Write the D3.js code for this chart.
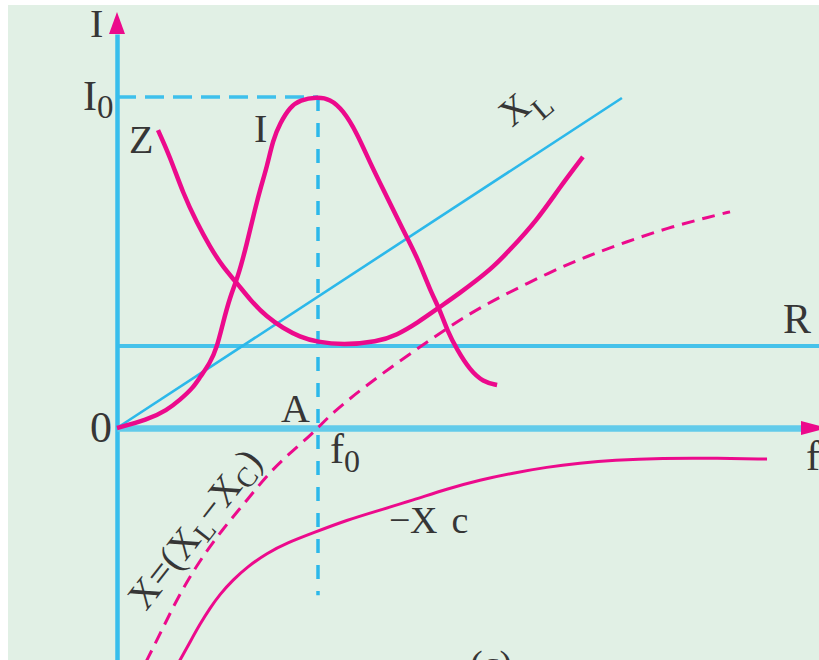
<!DOCTYPE html>
<html>
<head>
<meta charset="utf-8">
<script src="https://cdn.jsdelivr.net/npm/d3@7"></script>
<style>
  body { margin: 0; background: #fff; }
  text { font-family: "Liberation Serif", "DejaVu Serif", serif; fill: #363636; }
</style>
</head>
<body>
<div class="chart"></div>
<script>
// frequency in units of f0, current / reactance in units of I0
var iCurve = [[0,0],[0.149,0.024],[0.249,0.054],[0.313,0.085],[0.378,0.121],[0.413,0.154],
    [0.463,0.196],[0.498,0.245],[0.527,0.317],[0.562,0.396],[0.602,0.456],[0.647,0.559],
    [0.677,0.637],[0.711,0.719],[0.746,0.789],[0.776,0.870],[0.811,0.921],[0.861,0.970],
    [0.910,0.991],[0.995,1.0],[1.060,0.994],[1.124,0.961],[1.194,0.891],[1.259,0.801],
    [1.343,0.698],[1.423,0.598],[1.493,0.517],[1.557,0.417],[1.607,0.356],[1.642,0.296],
    [1.692,0.236],[1.756,0.175],[1.821,0.139],[1.891,0.130]];

var zCurve = [[0.204,0.900],[0.264,0.819],[0.328,0.710],[0.398,0.619],[0.463,0.547],
    [0.527,0.486],[0.597,0.438],[0.662,0.387],[0.746,0.335],[0.826,0.302],[0.910,0.275],
    [0.995,0.260],[1.124,0.251],[1.294,0.260],[1.393,0.281],[1.493,0.317],[1.607,0.366],
    [1.706,0.408],[1.791,0.447],[1.871,0.486],[1.955,0.538],[2.090,0.628],[2.204,0.728],
    [2.318,0.819]];

var xlLine = [[0,0],[2.512,0.997]];

var rValue = 0.248;

var xNet = [[0.144,-0.707],[0.224,-0.610],[0.303,-0.511],[0.403,-0.408],[0.522,-0.308],
    [0.647,-0.218],[0.771,-0.124],[0.920,-0.045],[1.0,0],[1.070,0.045],[1.224,0.121],
    [1.398,0.199],[1.572,0.272],[1.741,0.341],[1.905,0.396],[2.154,0.471],[2.343,0.520],
    [2.532,0.562],[2.736,0.604],[2.960,0.640],[3.050,0.653]];

var xcNeg = [[0.308,-0.707],[0.363,-0.647],[0.413,-0.592],[0.463,-0.544],[0.512,-0.502],
    [0.577,-0.459],[0.647,-0.420],[0.746,-0.378],[0.846,-0.347],[0.975,-0.317],
    [1.144,-0.278],[1.308,-0.248],[1.473,-0.218],[1.642,-0.184],[1.806,-0.157],
    [1.970,-0.136],[2.139,-0.118],[2.303,-0.106],[2.468,-0.097],[2.716,-0.091],
    [2.965,-0.091],[3.234,-0.094]];

var resonance = {f: 1, i: 1, dropTo: -0.505};

var W = 819, H = 660,
    MAGENTA = '#ec0a8c',
    BLUE = '#2cb8ea';

var x = d3.scaleLinear().domain([0, 1]).range([117, 318]),
    y = d3.scaleLinear().domain([0, 1]).range([428, 97]);

var svg = d3.select('.chart').append('svg')
    .attr('width', W)
    .attr('height', H);

svg.append('rect')
    .attr('x', 8).attr('y', 5)
    .attr('width', W - 8).attr('height', H - 5)
    .attr('fill', '#e1f0e5');

var straight = d3.line()
    .x(function(d) { return x(d[0]); })
    .y(function(d) { return y(d[1]); });

var line = d3.line()
    .x(function(d) { return x(d[0]); })
    .y(function(d) { return y(d[1]); })
    .curve(d3.curveBasis);

// R line
svg.append('path')
    .attr('d', straight([[0, rValue], [x.invert(W + 5), rValue]]))
    .attr('stroke', '#46c2ea').attr('stroke-width', 4).attr('fill', 'none');

// XL line
svg.append('path')
    .attr('d', straight(xlLine))
    .attr('stroke', BLUE).attr('stroke-width', 2.6).attr('fill', 'none');

// dashed guides to resonance
svg.append('path')
    .attr('d', straight([[0, resonance.i], [resonance.f, resonance.i]]))
    .attr('stroke', '#3ec0ec').attr('stroke-width', 3.5)
    .attr('stroke-dasharray', '19,9').attr('fill', 'none');
svg.append('path')
    .attr('d', straight([[resonance.f, resonance.i], [resonance.f, resonance.dropTo]]))
    .attr('stroke', BLUE).attr('stroke-width', 3.5)
    .attr('stroke-dasharray', '14,12').attr('fill', 'none');

// axes
var yAxisScale = y.copy().domain([y.invert(H + 2), y.invert(34)]).range([H + 2, 34]),
    xAxisScale = x.copy().domain([0, x.invert(801)]).range([117, 801]);

svg.append('g')
    .attr('transform', 'translate(' + x(0) + ',0)')
    .call(d3.axisLeft(yAxisScale).ticks(0).tickSize(0))
    .select('.domain').attr('stroke', '#38beec').attr('stroke-width', 4.5);

svg.append('g')
    .attr('transform', 'translate(0,' + y(0) + ')')
    .call(d3.axisBottom(xAxisScale).ticks(0).tickSize(0))
    .select('.domain').attr('stroke', '#62cbea').attr('stroke-width', 6.5);

// arrow heads
svg.append('path')
    .attr('d', 'M' + x(0) + ',12L' + (x(0) + 8) + ',34L' + (x(0) - 8) + ',34Z')
    .attr('fill', MAGENTA);
svg.append('path')
    .attr('d', 'M828,' + y(0) + 'L801,' + (y(0) - 7) + 'L801,' + (y(0) + 7) + 'Z')
    .attr('fill', MAGENTA);

// curves
svg.append('path').attr('d', line(xNet))
    .attr('stroke', MAGENTA).attr('stroke-width', 3)
    .attr('stroke-dasharray', '13,8').attr('fill', 'none');

svg.append('path').attr('d', line(xcNeg))
    .attr('stroke', MAGENTA).attr('stroke-width', 3).attr('fill', 'none');

svg.append('path').attr('d', line(zCurve))
    .attr('stroke', MAGENTA).attr('stroke-width', 4.5).attr('fill', 'none');

svg.append('path').attr('d', line(iCurve))
    .attr('stroke', MAGENTA).attr('stroke-width', 4.5).attr('fill', 'none');

// labels
function label(txt, px, py, size) {
    return svg.append('text').attr('x', px).attr('y', py)
        .attr('font-size', size).text(txt);
}

label('I', 90, 37, 40);

var i0 = label('I', 83, 110, 42);
i0.append('tspan').attr('font-size', 33).attr('dy', 8).text('0');

label('Z', 129, 153, 40);
label('I', 254, 142, 40);
label('R', 783, 333, 42);
label('0', 90, 442, 44);
label('A', 281, 422, 40);

var f0 = label('f', 330, 463, 42);
f0.append('tspan').attr('font-size', 32).attr('dy', 9).text('0');

label('f', 806, 470, 42);

label('\u2212', 389, 533, 38);
var xc = label('X', 410, 533, 38);
xc.append('tspan').attr('dx', 14).text('c');

var xl = svg.append('text').attr('font-size', 38)
    .attr('transform', 'translate(512,128) rotate(-40)');
xl.append('tspan').text('X');
xl.append('tspan').attr('font-size', 30).attr('dy', 14).text('L');

var xn = svg.append('text').attr('font-size', 39)
    .attr('transform', 'translate(146,612) rotate(-52)');
xn.append('tspan').text('X=(X');
xn.append('tspan').attr('font-size', 28).attr('dy', 6).text('L');
xn.append('tspan').attr('dy', -6).text('\u2212X');
xn.append('tspan').attr('font-size', 28).attr('dy', 6).text('C');
xn.append('tspan').attr('dy', -6).text(')');

label('(c)', 470, 677, 38);
</script>
</body>
</html>
